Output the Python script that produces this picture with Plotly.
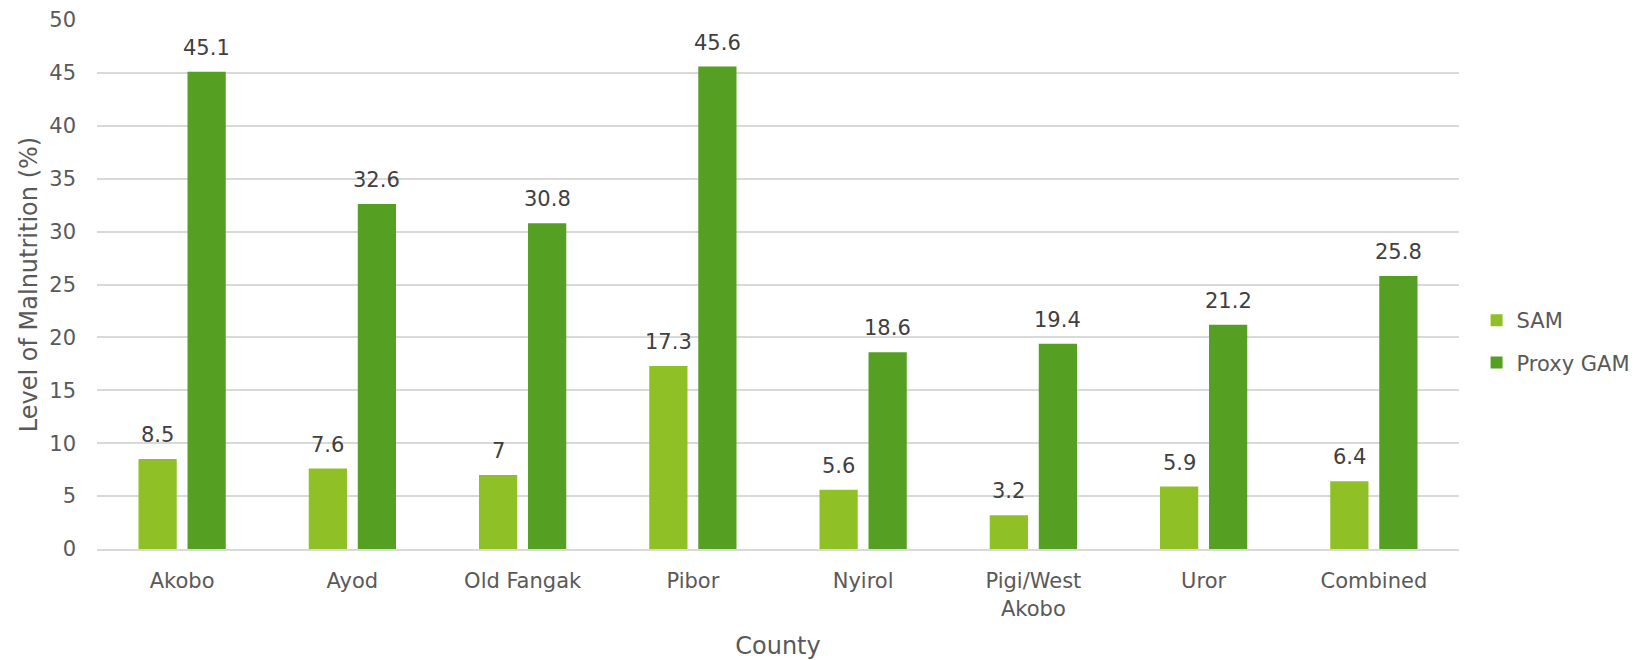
import plotly.graph_objects as go

counties = ["Akobo", "Ayod", "Old Fangak", "Pibor", "Nyirol", "Pigi/West<br>Akobo", "Uror", "Combined"]
sam = [8.5, 7.6, 7, 17.3, 5.6, 3.2, 5.9, 6.4]
proxy_gam = [45.1, 32.6, 30.8, 45.6, 18.6, 19.4, 21.2, 25.8]
y_ticks = [0, 5, 10, 15, 20, 25, 30, 35, 40, 45, 50]

SAM_COLOR = "#8FC127"
GAM_COLOR = "#55A023"
TEXT_COLOR = "#595959"
FONT = "DejaVu Sans"
FS = 21
TITLE_FS = 24

BARGAP = 0.424
GROUPGAP = 0.22

fig = go.Figure()
fig.add_trace(go.Bar(name="SAM", x=counties, y=sam, marker_color=SAM_COLOR,
                     marker_line_width=0, legendgroup="sam"))
fig.add_trace(go.Bar(name="Proxy GAM", x=counties, y=proxy_gam, marker_color=GAM_COLOR,
                     marker_line_width=0, legendgroup="gam"))

# value labels above each bar, offset to the centre of its slot in the group
slot = (1 - BARGAP) / 2
annotations = []
for i, (a, b) in enumerate(zip(sam, proxy_gam)):
    for val, dx in ((a, -slot / 2), (b, slot / 2)):
        annotations.append(dict(
            x=i + dx, y=val, xref="x", yref="y", text=f"{val:g}",
            showarrow=False, yanchor="bottom", yshift=10,
            font=dict(family=FONT, size=FS, color="#404040"),
        ))

fig.update_layout(
    width=1637, height=660,
    margin=dict(l=97, r=178, t=20, b=111, autoexpand=False),
    plot_bgcolor="white", paper_bgcolor="white",
    barmode="group", bargap=BARGAP, bargroupgap=GROUPGAP,
    font=dict(family=FONT, size=FS, color=TEXT_COLOR),
    annotations=annotations,
    legend=dict(xref="container", yref="container", x=0.902, y=0.4826,
                xanchor="left", yanchor="middle",
                font=dict(family=FONT, size=FS, color=TEXT_COLOR),
                tracegroupgap=12, itemwidth=30),
    xaxis=dict(
        title=dict(text="County", font=dict(size=TITLE_FS, color=TEXT_COLOR), standoff=27),
        showline=True, linecolor="#D9D9D9", linewidth=2, ticks="",
        ticklabelstandoff=12,
        tickfont=dict(size=FS, color=TEXT_COLOR),
    ),
    yaxis=dict(
        title=dict(text="Level of Malnutrition (%)", font=dict(size=TITLE_FS, color=TEXT_COLOR), standoff=4),
        range=[0, 50], tickvals=y_ticks, ticks="",
        showgrid=True, gridcolor="#D9D9D9", gridwidth=1.5,
        zeroline=False, ticklabelstandoff=20,
        tickfont=dict(size=FS, color=TEXT_COLOR),
    ),
)

fig.write_html("out.html")
